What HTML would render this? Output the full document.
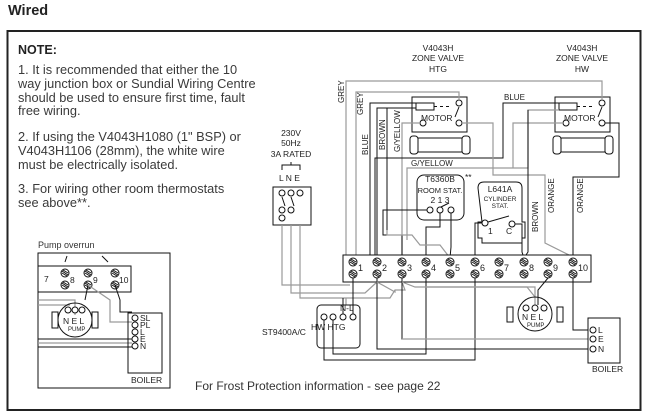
<!DOCTYPE html>
<html><head><meta charset="utf-8"><style>
body{margin:0;background:#fff;}
svg{display:block;font-family:"Liberation Sans",Arial,sans-serif;}
.t{font-size:12.8px;fill:#3a3a3a;}
.s{font-size:8.5px;fill:#222;}
.k{stroke:#111;stroke-width:1;fill:none;}
.g{stroke:#9a9a9a;stroke-width:1.2;fill:none;}
.c{stroke:#111;stroke-width:1;fill:#fff;}
</style></head><body>
<svg width="647" height="418" viewBox="0 0 647 418" xmlns="http://www.w3.org/2000/svg">
<defs>
<g id="sc"><circle r="4" fill="#fff" stroke="#111" stroke-width="1"/><line x1="-3" y1="-2" x2="3" y2="2" stroke="#111"/><line x1="-3" y1="0" x2="2" y2="3" stroke="#111"/><line x1="-2" y1="-3" x2="3" y2="0" stroke="#111"/></g>
</defs>
<text x="8" y="15" font-size="14.5" font-weight="bold" fill="#222">Wired</text>
<rect x="7.5" y="31" width="633" height="379" fill="none" stroke="#222" stroke-width="2"/>
<text x="18" y="54" font-size="12.5" font-weight="bold" fill="#222">NOTE:</text>
<text class="t" x="18" y="74">1. It is recommended that either the 10</text>
<text class="t" x="18" y="88">way junction box or Sundial Wiring Centre</text>
<text class="t" x="18" y="102">should be used to ensure first time, fault</text>
<text class="t" x="18" y="115">free wiring.</text>
<text class="t" x="18" y="141">2. If using the V4043H1080 (1" BSP) or</text>
<text class="t" x="18" y="155">V4043H1106 (28mm), the white wire</text>
<text class="t" x="18" y="169">must be electrically isolated.</text>
<text class="t" x="18" y="193">3. For wiring other room thermostats</text>
<text class="t" x="18" y="207">see above**.</text>
<text x="195" y="390" font-size="12" fill="#333">For Frost Protection information - see page 22</text>

<text x="38" y="248" font-size="9" fill="#333">Pump overrun</text>
<rect x="38" y="253" width="132" height="135" class="k"/>
<path class="k" d="M38 266H131V292H38"/>
<path class="k" d="M65 262l2-6M108 262l-6-6"/>
<text class="s" x="44" y="282">7</text>
<use href="#sc" x="65" y="273"/><use href="#sc" x="65" y="285"/><text class="s" x="70" y="283">8</text>
<use href="#sc" x="88" y="273"/><use href="#sc" x="88" y="285"/><text class="s" x="93" y="283">9</text>
<use href="#sc" x="115" y="273"/><use href="#sc" x="115" y="285"/><text class="s" x="119" y="283">10</text>
<path class="g" d="M38 300H75V315M38 305H70"/>
<path class="k" d="M88 285L85 300"/>
<path class="g" d="M88 285L110 300V322H132"/>
<path class="k" d="M115 285L120 300V312H132"/>
<path class="k" d="M38 339H132M38 347H132"/><path class="g" d="M38 343H132"/>
<circle cx="75" cy="320" r="17" class="k"/>
<rect x="52" y="312" width="6" height="16" class="k"/><rect x="92" y="312" width="6" height="16" class="k"/>
<circle cx="68" cy="310" r="3" class="c"/><circle cx="75" cy="310" r="3" class="c"/><circle cx="82" cy="310" r="3" class="c"/>
<text class="s" x="63" y="324">N E L</text><text x="68" y="331" font-size="6" fill="#222">PUMP</text>
<rect x="128" y="313" width="34" height="60" class="k"/>
<g class="c"><circle cx="135" cy="318" r="3"/><circle cx="135" cy="325" r="3"/><circle cx="135" cy="332" r="3"/><circle cx="135" cy="339" r="3"/><circle cx="135" cy="346" r="3"/></g>
<g class="s"><text x="140" y="321">SL</text><text x="140" y="328">PL</text><text x="140" y="335">L</text><text x="140" y="342">E</text><text x="140" y="349">N</text></g>
<text class="s" x="131" y="383">BOILER</text>

<g class="s" text-anchor="middle"><text x="291" y="136">230V</text><text x="291" y="146">50Hz</text><text x="291" y="157">3A RATED</text></g>
<path class="k" d="M282 170V165H300V170M291 165V162"/>
<text class="s" x="279" y="181">L N E</text>
<rect x="273" y="187" width="38" height="38" class="k"/>
<g class="c"><circle cx="282" cy="193" r="3"/><circle cx="291" cy="193" r="3"/><circle cx="300" cy="193" r="3"/><circle cx="282" cy="210" r="3"/><circle cx="291" cy="210" r="3"/><circle cx="282" cy="218" r="3"/></g>
<path class="k" d="M282 197l3 9M291 197l3 9"/>
<path class="g" d="M282 225V285H343M291 225V293H343M300 225V298H343"/>

<g class="s" text-anchor="middle"><text x="438" y="51">V4043H</text><text x="438" y="61">ZONE VALVE</text><text x="438" y="72">HTG</text>
<text x="582" y="51">V4043H</text><text x="582" y="61">ZONE VALVE</text><text x="582" y="72">HW</text></g>

<rect x="412" y="97" width="55" height="35" class="k"/>
<rect x="416" y="103" width="18" height="7" class="k"/>
<path class="k" d="M434 106.5h3m3 0h3m3 0h3M459 107l-4 10"/>
<circle cx="459" cy="103" r="3" class="c"/><circle cx="459" cy="123" r="3" class="c"/><circle cx="423" cy="123" r="3" class="c"/>
<text class="s" x="421" y="121" font-size="8">MOTOR</text>
<rect x="418" y="138" width="44" height="14" class="k"/><rect x="410" y="136" width="8" height="18" rx="3" class="k"/><rect x="462" y="136" width="8" height="18" rx="3" class="k"/>
<rect x="555" y="97" width="55" height="35" class="k"/>
<rect x="559" y="103" width="18" height="7" class="k"/>
<path class="k" d="M577 106.5h3m3 0h3m3 0h3M602 107l-4 10"/>
<circle cx="602" cy="103" r="3" class="c"/><circle cx="602" cy="123" r="3" class="c"/><circle cx="566" cy="123" r="3" class="c"/>
<text class="s" x="564" y="121" font-size="8">MOTOR</text>
<rect x="561" y="138" width="44" height="14" class="k"/><rect x="553" y="136" width="8" height="18" rx="3" class="k"/><rect x="605" y="136" width="8" height="18" rx="3" class="k"/>

<path class="g" d="M346 265V81H602V100"/>
<path class="g" d="M356 258V92H459V100"/>
<path class="k" d="M370 258V103H416"/>
<path class="k" d="M377 258V108H416"/>
<path class="k" d="M387 230V108"/>
<path class="g" d="M402 258V123H420"/>
<path class="k" d="M375 258V158H503V103H559"/>
<path class="g" d="M407 240V168H528V110H559"/>
<path class="g" d="M513 168V123H563"/>
<path class="g" d="M462 123H493V175H545V243L573 257"/>
<path class="k" d="M605 123H619V177H573V258"/>
<path class="k" d="M528 110V252L524 258"/>
<g font-size="8" fill="#222">
<text transform="translate(344,103) rotate(-90)">GREY</text>
<text transform="translate(363,115) rotate(-90)">GREY</text>
<text transform="translate(368,155) rotate(-90)">BLUE</text>
<text transform="translate(385,150) rotate(-90)">BROWN</text>
<text transform="translate(400,152) rotate(-90)">G/YELLOW</text>
<text x="411" y="166">G/YELLOW</text>
<text x="504" y="100">BLUE</text>
<text transform="translate(538,232) rotate(-90)">BROWN</text>
<text transform="translate(554,213) rotate(-90)">ORANGE</text>
<text transform="translate(583,213) rotate(-90)">ORANGE</text>
</g>

<rect x="417" y="175" width="47" height="45" rx="7" class="k"/>
<g class="s" text-anchor="middle"><text x="440" y="182">T6360B</text><text x="440" y="193" font-size="7.5">ROOM STAT.</text><text x="440" y="203">2 1 3</text></g>
<text class="s" x="465" y="180">**</text>
<g class="c"><circle cx="430" cy="210" r="3"/><circle cx="440" cy="210" r="3"/><circle cx="451" cy="210" r="3"/></g>
<path class="k" d="M427 210H383V235H402V258M440 213V227H426V258M451 213V247L450 258M441 207l8-4"/>
<path class="g" d="M387 230V235H412L420 245H440L450 258"/>
<path class="k" d="M478 188q0-6 6-6h32q6 0 6 6v34h3v16h-3v5h-40v-5h-4v-16h4z"/>
<g class="s" text-anchor="middle"><text x="500" y="192">L641A</text><text x="500" y="201" font-size="6.5">CYLINDER</text><text x="500" y="208" font-size="6.5">STAT.</text></g>
<circle cx="485" cy="223" r="3" class="c"/><circle cx="512" cy="224" r="3" class="c"/>
<path class="k" d="M488 222l21-6"/>
<text class="s" x="488" y="234">1</text><text class="s" x="506" y="234">C</text>
<path class="k" d="M482 223H475V258M515 224H522V252L524 258"/>

<rect x="343" y="255" width="248" height="27" fill="#fff" stroke="#111"/>
<g>
<use href="#sc" x="353" y="262"/><use href="#sc" x="353" y="274"/>
<use href="#sc" x="377" y="262"/><use href="#sc" x="377" y="274"/>
<use href="#sc" x="402" y="262"/><use href="#sc" x="402" y="274"/>
<use href="#sc" x="426" y="262"/><use href="#sc" x="426" y="274"/>
<use href="#sc" x="450" y="262"/><use href="#sc" x="450" y="274"/>
<use href="#sc" x="475" y="262"/><use href="#sc" x="475" y="274"/>
<use href="#sc" x="499" y="262"/><use href="#sc" x="499" y="274"/>
<use href="#sc" x="524" y="262"/><use href="#sc" x="524" y="274"/>
<use href="#sc" x="548" y="262"/><use href="#sc" x="548" y="274"/>
<use href="#sc" x="573" y="262"/><use href="#sc" x="573" y="274"/>
</g>
<g font-size="9" fill="#222"><text x="358" y="271">1</text><text x="382" y="271">2</text><text x="407" y="271">3</text><text x="431" y="271">4</text><text x="455" y="271">5</text><text x="480" y="271">6</text><text x="504" y="271">7</text><text x="529" y="271">8</text><text x="553" y="271">9</text><text x="578" y="271">10</text></g>

<path class="g" d="M343 285H350M343 293H365L377 282M343 298H390L395 290H405L402 282"/>
<path class="k" d="M353 278V305M377 278V349H588M402 278V339H588M426 278V354H333V320M475 278V360H324V320"/>
<path class="g" d="M402 282L415 287H535V305M377 282L395 292V290M346 298V305"/>
<path class="g" d="M402 339H588"/>
<path class="k" d="M548 278L538 290V305M573 278V330H588"/>
<path class="g" d="M426 287H527L535 297"/>
<rect x="317" y="305" width="43" height="43" rx="4" class="k"/>
<text class="s" x="340" y="311">N-L</text>
<g class="c"><circle cx="324" cy="317" r="3"/><circle cx="333" cy="317" r="3"/><circle cx="343" cy="317" r="3"/><circle cx="353" cy="317" r="3"/></g>
<text class="s" x="311" y="330">HW HTG</text>
<text class="s" x="262" y="335">ST9400A/C</text>
<path class="k" d="M343 314V298M353 314V282"/>
<circle cx="535" cy="314" r="17" class="k"/>
<rect x="507" y="307" width="6" height="15" class="k"/><rect x="557" y="307" width="6" height="15" class="k"/>
<g class="c"><circle cx="526" cy="308" r="3"/><circle cx="535" cy="308" r="3"/><circle cx="544" cy="308" r="3"/></g>
<text class="s" x="522" y="320">N E L</text><text x="527" y="327" font-size="6" fill="#222">PUMP</text>
<rect x="588" y="318" width="32" height="45" class="k"/>
<g class="c"><circle cx="593" cy="330" r="3"/><circle cx="593" cy="339" r="3"/><circle cx="593" cy="349" r="3"/></g>
<g class="s"><text x="598" y="333">L</text><text x="598" y="342">E</text><text x="598" y="352">N</text></g>
<text class="s" x="592" y="372">BOILER</text>
</svg>
</body></html>
